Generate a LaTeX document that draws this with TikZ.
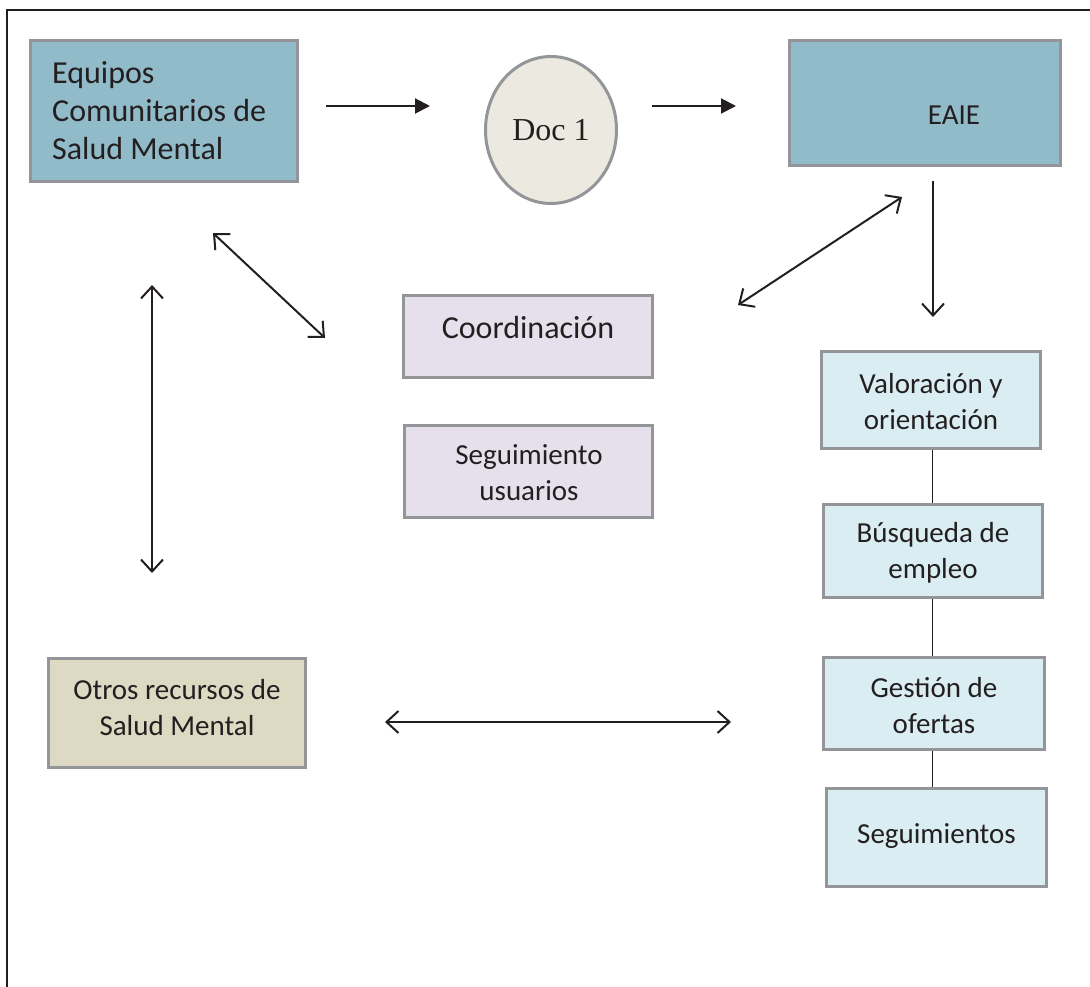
\documentclass[tikz,border=0pt]{standalone}
\usepackage{fontspec}
\setmainfont{Carlito}
\newfontfamily\timesf{Liberation Serif}
\usetikzlibrary{arrows.meta,shapes.geometric}
\definecolor{bordergray}{RGB}{148,149,153}
\definecolor{txt}{RGB}{35,31,32}
\definecolor{bluefill}{RGB}{146,187,201}
\definecolor{lavfill}{RGB}{229,224,236}
\definecolor{lightblue}{RGB}{218,237,243}
\definecolor{tanfill}{RGB}{221,217,195}
\definecolor{docfill}{RGB}{236,234,224}
\tikzset{
  box/.style={draw=bordergray, line width=3pt, rectangle, align=center, text=txt, inner sep=0pt,
    font=\fontsize{29}{36}\selectfont},
  bluebox/.style={box, fill=bluefill},
  lavbox/.style={box, fill=lavfill},
  ltbox/.style={box, fill=lightblue},
  tanbox/.style={box, fill=tanfill},
  boxtext/.style={text=txt, inner sep=0pt, align=center, font=\fontsize{29}{36}\selectfont},
  docnode/.style={draw=bordergray, line width=3pt, ellipse, fill=docfill, text=txt,
    inner sep=0pt, font=\timesf\fontsize{32}{36}\selectfont},
  fillarrow/.style={draw=txt, line width=2pt, -{Triangle[length=15pt,width=15pt]}},
  dblarrow/.style={draw=txt, line width=2pt, {Straight Barb[length=12pt,width=22pt]}-{Straight Barb[length=12pt,width=22pt]}},
  downarrow/.style={draw=txt, line width=2pt, -{Straight Barb[length=12pt,width=22pt]}},
  thinline/.style={draw=txt, line width=1pt},
  frameline/.style={draw=txt, line width=2.6pt}
}
\begin{document}
\begin{tikzpicture}[x=1pt,y=-1pt]
\useasboundingbox (0,0) rectangle (1090,987);
\draw[frameline] (7,987) -- (7,10) -- (1090,10);

\node[bluebox, minimum width=267, minimum height=141] (ecsm) at (164,111) {};
\node[boxtext, anchor=west, align=left, font=\fontsize{32}{38}\selectfont] (ecsmt) at (52,111) {Equipos\\Comunitarios de\\Salud Mental};
\node[docnode, minimum width=131, minimum height=147] (doc) at (551,130) {Doc 1};
\node[bluebox, minimum width=271, minimum height=125] (eaie) at (925,103) {};
\node[boxtext] (eaiet) at (954,115) {EAIE};

\node[lavbox, minimum width=249, minimum height=82] (coord) at (528,336.5) {};
\node[boxtext, font=\fontsize{32}{38}\selectfont] (coordt) at (528,328) {Coordinación};
\node[lavbox, minimum width=248, minimum height=92] (segu) at (528.5,471.5) {};
\node[boxtext] (segut) at (529,473) {Seguimiento\\usuarios};

\node[ltbox, minimum width=219, minimum height=97] (val) at (931,400) {};
\node[boxtext] (valt) at (931,402) {Valoración y\\orientación};
\node[ltbox, minimum width=219, minimum height=93] (bus) at (933,551) {};
\node[boxtext] (bust) at (933,553) {Búsqueda de\\empleo};
\node[ltbox, minimum width=221, minimum height=92] (ges) at (934,703.5) {};
\node[boxtext] (gest) at (934,706) {Gestión de\\ofertas};
\node[ltbox, minimum width=220, minimum height=98] (seg) at (936.5,837.5) {};
\node[boxtext] (segt) at (936.5,836) {Seguimientos};

\node[tanbox, minimum width=257, minimum height=109] (otros) at (177,713) {};
\node[boxtext] (otrost) at (177,708) {Otros recursos de\\Salud Mental};

% top arrows
\draw[fillarrow, shorten <=27pt, shorten >=54pt] ([yshift=5pt]ecsm.east) -- ([yshift=5pt]ecsm.east -| doc.west);
\draw[fillarrow, shorten <=34pt, shorten >=52pt] ([yshift=24pt]doc.east) -- ([yshift=24pt]doc.east -| eaie.west);

% down arrow from EAIE
\draw[downarrow, shorten <=14pt, shorten >=33pt] ([xshift=8pt]eaie.south) -- ([xshift=8pt]eaie.south |- val.north);

% free double arrows
\coordinate (d1) at (738,305);
\coordinate (d2) at (902,197);
\draw[dblarrow] (d1) -- (d2);
\coordinate (e1) at (213,233);
\coordinate (e2) at (325,338);
\draw[dblarrow] (e1) -- (e2);
\coordinate (v1) at (152,285);
\coordinate (v2) at (152,573);
\draw[dblarrow] (v1) -- (v2);
\coordinate (h1) at (385,722);
\coordinate (h2) at (731,722);
\draw[dblarrow] (h1) -- (h2);

% right column connectors
\draw[thinline] ([xshift=1pt]val.south) -- ([xshift=-1pt]bus.north);
\draw[thinline] ([xshift=-1pt]bus.south) -- ([xshift=-2pt]ges.north);
\draw[thinline] ([xshift=-2pt]ges.south) -- ([xshift=-4.5pt]seg.north);
\end{tikzpicture}
\end{document}
